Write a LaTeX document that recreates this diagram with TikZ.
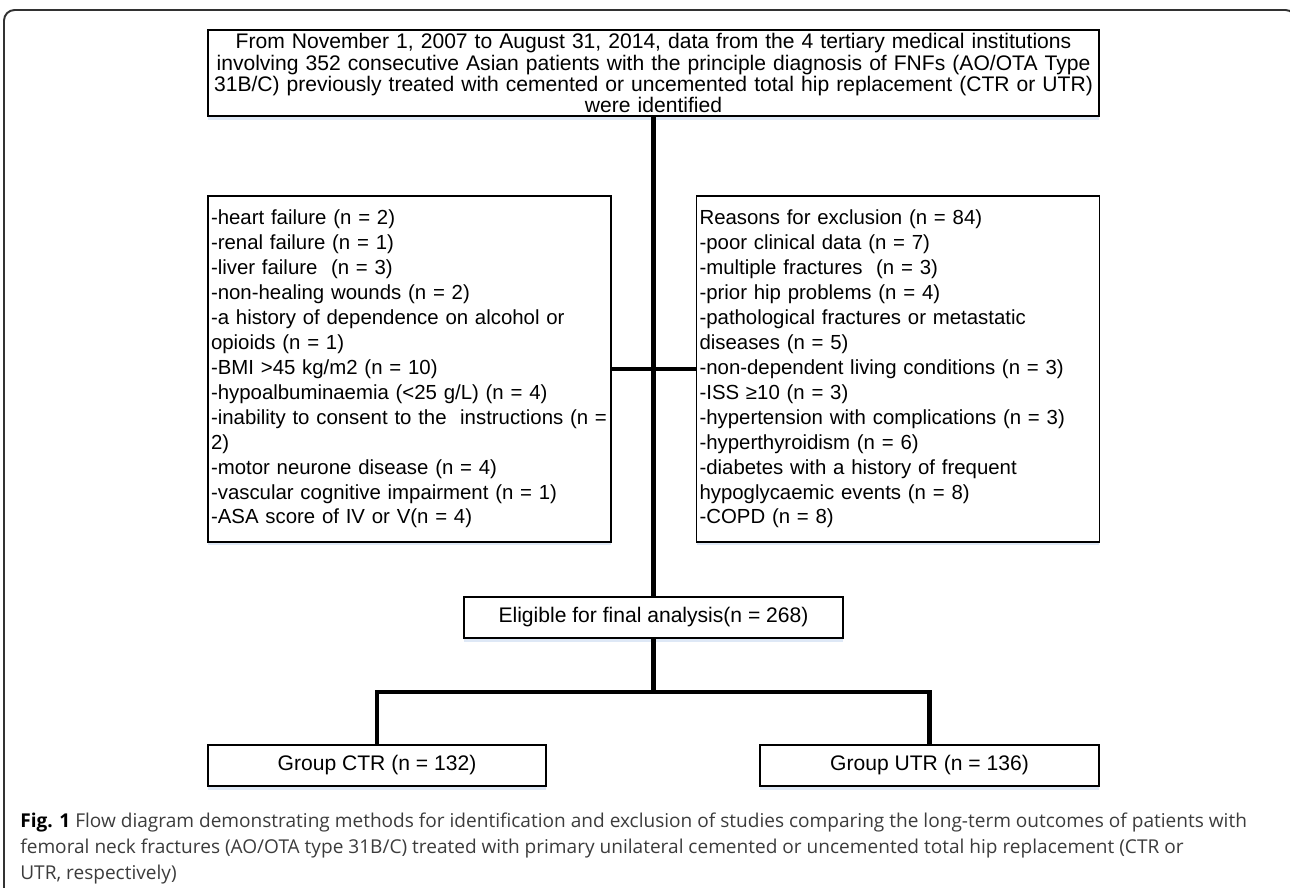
\documentclass[tikz,border=0pt]{standalone}
\usepackage{fontspec}
\setmainfont{Liberation Sans}
\newfontfamily\captionfont{Open Sans}
\usetikzlibrary{positioning, shadows}
\definecolor{framegray}{RGB}{50, 50, 50}
\definecolor{shadowblue}{RGB}{222, 232, 246}
\definecolor{captiongray}{RGB}{60, 60, 60}

\begin{document}
\begin{tikzpicture}[x=0.02cm, y=-0.02cm,
        flowbox/.style={draw=black, line width=0.8pt, fill=white,
            inner xsep=0.06cm, inner ysep=0pt,
            font=\fontsize{12pt}{14pt}\selectfont,
            drop shadow={shadow xshift=0pt, shadow yshift=-2pt, fill=shadowblue, opacity=1}},
        listbox/.style={flowbox, text width=7.94cm, minimum height=6.92cm, align=left,
            font=\fontsize{11.6pt}{14.2pt}\selectfont},
        groupbox/.style={flowbox, minimum height=0.82cm, align=center},
        joint/.style={line width=2.3pt}
    ]
    \useasboundingbox (0, 0) rectangle (1290, 887);

    % outer frame
    \draw[framegray, line width=1.1pt, rounded corners=6pt]
        (4, 900) -- (4, 10) -- (1296, 10) -- (1296, 900);

    \node[flowbox, text width=17.7cm, minimum height=1.72cm, align=center,
          font={\fontsize{12pt}{12pt}\selectfont\lineskiplimit=-20pt\relax}] (source) at (653.5, 73)
        {From November 1, 2007 to August 31, 2014, data from the 4 tertiary medical institutions\\
         involving 352 consecutive Asian patients with the principle diagnosis of FNFs (AO/OTA Type\\
         31B/C) previously treated with cemented or uncemented total hip replacement (CTR or UTR)\\
         were identified};

    \node[listbox] (comorbid) at (409.5, 369)
        {-heart failure (n = 2)\\
         -renal failure (n = 1)\\
         -liver failure~ (n = 3)\\
         -non-healing wounds (n = 2)\\
         -a history of dependence on alcohol or\\
         opioids (n = 1)\\
         -BMI >45 kg/m2 (n = 10)\\
         -hypoalbuminaemia (<25 g/L) (n = 4)\\
         -inability to consent to the~ instructions (n =\\
         2)\\
         -motor neurone disease (n = 4)\\
         -vascular cognitive impairment (n = 1)\\
         -ASA score of IV or V(n = 4)};

    \node[listbox] (reasons) at (898, 369)
        {Reasons for exclusion (n = 84)\\
         -poor clinical data (n = 7)\\
         -multiple fractures~ (n = 3)\\
         -prior hip problems (n = 4)\\
         -pathological fractures or metastatic\\
         diseases (n = 5)\\
         -non-dependent living conditions (n = 3)\\
         -ISS ≥10 (n = 3)\\
         -hypertension with complications (n = 3)\\
         -hyperthyroidism (n = 6)\\
         -diabetes with a history of frequent\\
         hypoglycaemic events (n = 8)\\
         -COPD (n = 8)};

    \node[groupbox, minimum width=7.58cm] (eligible) at (653.5, 617.5)
        {Eligible for final analysis(n = 268)};

    \node[groupbox, minimum width=6.76cm] (ctr) at (377, 765.5) {Group CTR (n = 132)};
    \node[groupbox, minimum width=6.78cm] (utr) at (929.5, 765.5) {Group UTR (n = 136)};

    \coordinate (fork) at (653.5, 692);

    \draw[joint] (source.south) -- (eligible.north);
    \draw[joint] (comorbid.east) -- (reasons.west);
    \draw[joint] (eligible.south) -- (fork);
    \draw[joint] (ctr.north) |- (fork) -| (utr.north);

    \node[anchor=north west, align=left, inner sep=0pt, text=captiongray,
          font=\captionfont\fontsize{10.85pt}{14.7pt}\selectfont] (caption) at (20, 813)
        {\textbf{\color{black}Fig. 1} Flow diagram demonstrating methods for identification and exclusion of studies comparing the long-term outcomes of patients with\\
         femoral neck fractures (AO/OTA type 31B/C) treated with primary unilateral cemented or uncemented total hip replacement (CTR or\\
         UTR, respectively)};
\end{tikzpicture}
\end{document}
